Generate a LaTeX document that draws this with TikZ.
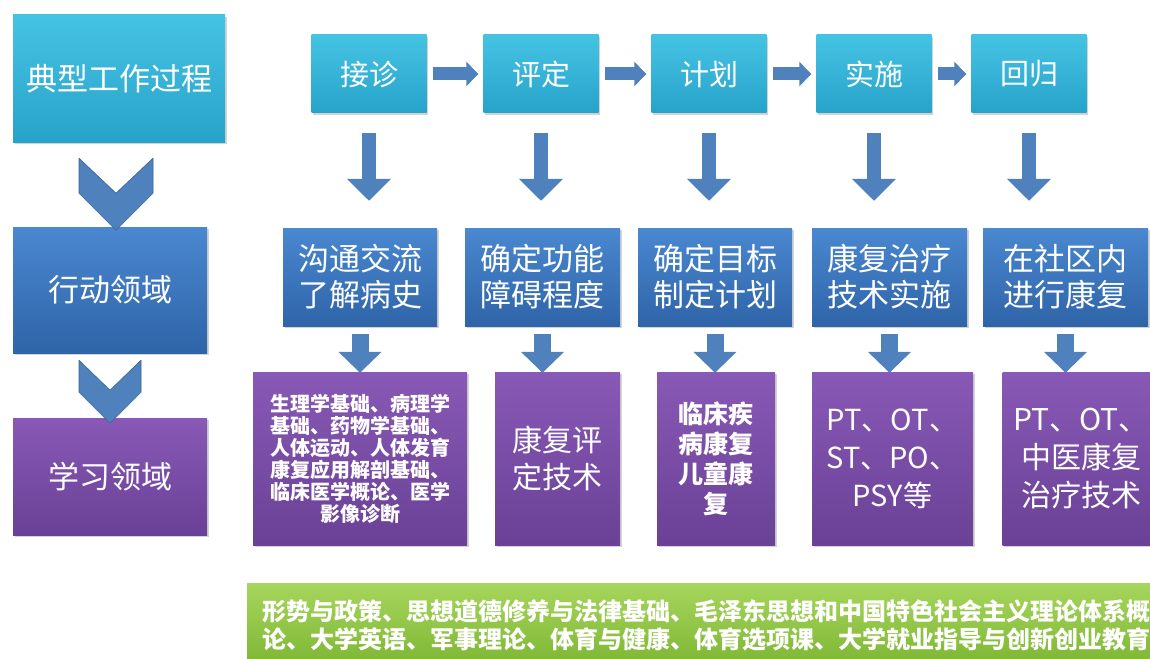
\documentclass[tikz,border=0pt]{standalone}
\usepackage{fontspec}
\setmainfont{Noto Sans CJK SC}
\usetikzlibrary{arrows.meta,shadows,calc}

\definecolor{cyantop}{HTML}{45C3E3}
\definecolor{cyanbot}{HTML}{27A3CA}
\definecolor{bluetop}{HTML}{4A88D0}
\definecolor{bluebot}{HTML}{2F64A8}
\definecolor{purptop}{HTML}{8859B6}
\definecolor{purpbot}{HTML}{6A4196}
\definecolor{greentop}{HTML}{A6D65C}
\definecolor{greenbot}{HTML}{7DB533}
\definecolor{arrowblue}{HTML}{4F81BD}
\definecolor{arrowdark}{HTML}{3B6494}

\tikzset{
  box/.style={rectangle, text=white, align=center, inner sep=2pt,
    drop shadow={opacity=0.35, shadow xshift=1.5pt, shadow yshift=-2pt}},
  cyanbox/.style={box, top color=cyantop, bottom color=cyanbot},
  bluebox/.style={box, top color=bluetop, bottom color=bluebot},
  purplebox/.style={box, top color=purptop, bottom color=purpbot},
  procbox/.style={cyanbox, minimum width=115pt, minimum height=78pt,
    font=\fontsize{29}{34}\selectfont},
  actbox/.style={bluebox, minimum height=98pt, font=\fontsize{31}{36}\selectfont},
  learnbox/.style={purplebox, minimum height=173pt},
  sidebox/.style={font=\fontsize{31}{36}\selectfont},
  flowright/.style={arrowblue, line width=13pt, shorten <=6pt, shorten >=5pt,
    -{Triangle[width=24pt,length=12pt]}},
  flowdown/.style={arrowblue, line width=14pt, shorten <=20pt, shorten >=27pt,
    -{Triangle[width=43pt,length=22pt]}},
  flowdowntwo/.style={arrowblue, line width=17pt, shorten <=8pt, shorten >=-1pt,
    -{Triangle[width=42pt,length=21pt]}},
  chevron/.style={fill=arrowblue, draw=arrowdark, line width=0.6pt, line join=round}
}

\begin{document}
\begin{tikzpicture}[x=1pt,y=-1pt]
\clip (0,0) rectangle (1150,658);

% left column
\node[cyanbox, sidebox, minimum width=212pt, minimum height=127pt] (typ) at (119,78.5) {典型工作过程};
\node[bluebox, sidebox, minimum width=194pt, minimum height=126pt] (act) at (110,290) {行动领域};
\node[purplebox, sidebox, minimum width=194pt, minimum height=117pt] (lrn) at (110,476.5) {学习领域};

\draw[chevron] ($(typ.south)+(-40,16)$) -- ++(37,35) -- ++(37,-35) -- ++(0,35) -- ++(-37,37) -- ++(-37,-37) -- cycle;
\draw[chevron] ($(act.south)+(-31,7)$) -- ++(31,30) -- ++(31,-30) -- ++(0,32) -- ++(-31,31) -- ++(-31,-31) -- cycle;

% work process
\node[procbox] (jz) at (369,74) {接诊};
\node[procbox] (pd) at (541,74) {评定};
\node[procbox] (jh) at (709,74) {计划};
\node[procbox] (ss) at (874,74) {实施};
\node[procbox] (hg) at (1029,74) {回归};

% action fields
\node[actbox, minimum width=154pt] (gt) at (360,277) {沟通交流\\了解病史};
\node[actbox, minimum width=155pt] (qd) at (542.5,277) {确定功能\\障碍程度};
\node[actbox, minimum width=154pt] (mb) at (715,277) {确定目标\\制定计划};
\node[actbox, minimum width=155pt] (zl) at (889.5,277) {康复治疗\\技术实施};
\node[actbox, minimum width=165pt] (sq) at (1065.5,277) {在社区内\\进行康复};

% learning fields
\node[learnbox, minimum width=214pt, font=\bfseries\fontsize{20}{22}\selectfont] (jc) at (360,458.5)
  {生理学基础、病理学\\基础、药物学基础、\\人体运动、人体发育\\康复应用解剖基础、\\临床医学概论、医学\\影像诊断};
\node[learnbox, minimum width=125pt, font=\fontsize{30}{37}\selectfont] (pg) at (557.5,458.5) {康复评\\定技术};
\node[learnbox, minimum width=118pt, font=\bfseries\fontsize{25}{30}\selectfont] (lc) at (716,458.5) {临床疾\\病康复\\儿童康\\复};
\node[learnbox, minimum width=161pt, font=\fontsize{29}{38}\selectfont] (zy) at (892.5,458.5) {PT、OT、\\ST、PO、\\PSY等};
\node[learnbox, minimum width=157pt, font=\fontsize{30}{38}\selectfont] (zf) at (1081,458.5) {PT、OT、\\中医康复\\治疗技术};

% common courses
\node[box, anchor=north west, top color=greentop, bottom color=greenbot, text width=900pt,
  inner xsep=15pt, minimum height=84pt, align=left, font=\bfseries\fontsize{24}{28}\selectfont] (gb) at (247,583)
  {形势与政策、思想道德修养与法律基础、毛泽东思想和中国特色社会主义理论体系概\\论、大学英语、军事理论、体育与健康、体育选项课、大学就业指导与创新创业教育};

% arrows
\foreach \a/\b in {jz/pd,pd/jh,jh/ss,ss/hg}
  \draw[flowright] (\a) -- (\b);
\foreach \a/\b in {jz/gt,pd/qd,jh/mb,ss/zl,hg/sq}
  \draw[flowdown] (\a) -- (\a |- \b.north);
\foreach \a/\b in {gt/jc,qd/pg,mb/lc,zl/zy,sq/zf}
  \draw[flowdowntwo] (\a) -- (\a |- \b.north);
\end{tikzpicture}
\end{document}
